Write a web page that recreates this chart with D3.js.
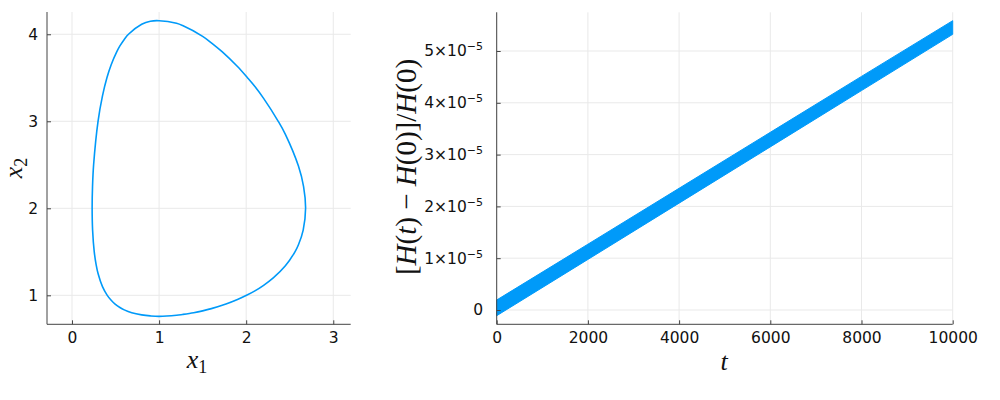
<!DOCTYPE html>
<html>
<head>
<meta charset="utf-8">
<script src="https://cdn.jsdelivr.net/npm/d3@7"></script>
<style>
html,body{margin:0;padding:0;background:#fff;}
svg{display:block;}
</style>
</head>
<body>
<svg id="chart" width="1000" height="400"></svg>
<script>
// Phase portrait (x1, x2), in order around the closed orbit
const phaseX1 = [1.00,1.20,1.27,1.397,1.50,1.60,1.768,1.90,2.004,2.10,2.20,2.311,2.45,2.56,2.60,2.6545,2.682,2.659,2.60,2.45,2.368,2.20,2.10,2.015,1.90,1.723,1.60,1.50,1.27,1.20,1.00,0.90,0.80,0.6485,0.60,0.55,0.5147,0.45,0.401,0.35,0.299,0.2482,0.2357,0.2313,0.2365,0.2555,0.2776,0.30,0.35,0.405,0.45,0.495,0.55,0.60,0.686,0.80,0.90];
const phaseX2 = [0.758,0.7705,0.78,0.80,0.8215,0.847,0.90,0.9516,1.00,1.051,1.115,1.20,1.339,1.50,1.581,1.75,2.00,2.25,2.485,2.85,3.00,3.263,3.399,3.50,3.629,3.80,3.902,3.976,4.10,4.126,4.156,4.15,4.115,4.00,3.941,3.866,3.80,3.65,3.50,3.292,3.00,2.50,2.25,2.00,1.75,1.50,1.35,1.248,1.10,1.00,0.943,0.90,0.86,0.833,0.80,0.7755,0.7633];
const leftXTicks = [0,1,2,3];
const leftYTicks = [1,2,3,4];

// Relative energy error band (upper / lower envelope)
const timeT = [0,2000,4000,6000,8000,10000];
const errUpper = [0.193e-5,1.27e-5,2.35e-5,3.43e-5,4.51e-5,5.585e-5];
const errLower = [-0.11e-5,0.976e-5,2.063e-5,3.149e-5,4.236e-5,5.322e-5];
const rightXTicks = [0,2000,4000,6000,8000,10000];
const rightYTicks = [0,1e-5,2e-5,3e-5,4e-5,5e-5];
const rightYTickMant = ["0","1","2","3","4","5"];

const svg = d3.select("#chart");
const blue = "#009af9";
const gridColor = "#e9e9e9";
const axisColor = "#444";
const tickFont = 15.5;
const sansFont = "'DejaVu Sans','Liberation Sans',sans-serif";

function drawGrid(x, y, xt, yt) {
  const [x0, x1] = x.range();
  const [y0, y1] = y.range();
  const g = svg.append("g");
  g.selectAll(".gx").data(xt).enter().append("line")
    .attr("x1", d => x(d)).attr("x2", d => x(d)).attr("y1", y0).attr("y2", y1)
    .attr("stroke", gridColor).attr("stroke-width", 1);
  g.selectAll(".gy").data(yt).enter().append("line")
    .attr("y1", d => y(d)).attr("y2", d => y(d)).attr("x1", x0).attr("x2", x1)
    .attr("stroke", gridColor).attr("stroke-width", 1);
}

function drawAxes(x, y, xt, yt, xfmt, yLabelFn, ylabX) {
  const [x0, x1] = x.range();
  const [y0, y1] = y.range();
  const xa = d3.axisBottom(x).tickValues(xt).tickSize(-4).tickPadding(8).tickFormat(xfmt);
  const gx = svg.append("g").attr("transform", `translate(0,${y0})`).call(xa);
  gx.select(".domain").attr("stroke", axisColor).attr("d", `M${x0},0H${x1}`);
  gx.selectAll(".tick line").attr("stroke", axisColor);
  gx.selectAll(".tick text").attr("font-size", tickFont).attr("font-family", sansFont)
    .attr("fill", "#111").attr("dy", "0.71em");
  const ya = d3.axisLeft(y).tickValues(yt).tickSize(-4).tickFormat(() => "");
  const gy = svg.append("g").attr("transform", `translate(${x0},0)`).call(ya);
  gy.select(".domain").attr("stroke", axisColor).attr("d", `M0,${y0}V${y1}`);
  gy.selectAll(".tick line").attr("stroke", axisColor);
  gy.selectAll(".tick text").remove();
  yt.forEach((d, i) => {
    const t = svg.append("text")
      .attr("x", ylabX).attr("y", y(d)).attr("dy", "0.35em")
      .attr("text-anchor", "end")
      .attr("font-family", sansFont)
      .attr("font-size", tickFont).attr("fill", "#111");
    yLabelFn(t, d, i);
  });
}

// ---------- Left panel ----------
const xL = d3.scaleLinear().domain([-0.287, 3.2]).range([47, 350.7]);
const yL = d3.scaleLinear().domain([0.667, 4.256]).range([324.3, 12]);
drawGrid(xL, yL, leftXTicks, leftYTicks);
const pts = phaseX1.map((v, i) => [v, phaseX2[i]]);
svg.append("path")
  .attr("d", d3.line().x(d => xL(d[0])).y(d => yL(d[1])).curve(d3.curveCatmullRomClosed.alpha(0.5))(pts))
  .attr("fill", "none").attr("stroke", blue).attr("stroke-width", 1.6);
drawAxes(xL, yL, leftXTicks, leftYTicks, d3.format("d"), (t, d) => t.text(d), 38);

// ---------- Right panel ----------
const xR = d3.scaleLinear().domain([0, 10000]).range([496.7, 952.7]);
const yR = d3.scaleLinear().domain([-0.276e-5, 5.747e-5]).range([324.3, 12.3]);
drawGrid(xR, yR, rightXTicks, rightYTicks);
const band = timeT.map((t, i) => ({t, lo: errLower[i], hi: errUpper[i]}));
svg.append("path")
  .attr("d", d3.area().x(d => xR(d.t)).y0(d => yR(d.lo)).y1(d => yR(d.hi))(band))
  .attr("fill", blue).attr("stroke", blue).attr("stroke-width", 1);
drawAxes(xR, yR, rightXTicks, rightYTicks, d3.format("d"), (t, d, i) => {
  if (d === 0) { t.text("0"); return; }
  t.append("tspan").text(rightYTickMant[i] + "×10");
  t.append("tspan").attr("dy", "-0.55em").attr("font-size", 11).text("−5");
}, 483);

// ---------- Axis titles ----------
function mathLabel(x, y, rot, size, build) {
  const t = svg.append("text")
    .attr("transform", `translate(${x},${y}) rotate(${rot})`)
    .attr("text-anchor", "middle")
    .attr("font-family", "'Liberation Serif','DejaVu Serif',serif")
    .attr("font-size", size).attr("fill", "#111");
  build(t);
}
mathLabel(197, 368, 0, 26, t => {
  t.append("tspan").attr("font-style", "italic").text("x");
  t.append("tspan").attr("dy", "0.3em").attr("font-size", 18).text("1");
});
mathLabel(22, 168, -90, 26, t => {
  t.append("tspan").attr("font-style", "italic").text("x");
  t.append("tspan").attr("dy", "0.3em").attr("font-size", 18).text("2");
});
mathLabel(724, 370, 0, 26, t => {
  t.append("tspan").attr("font-style", "italic").text("t");
});
mathLabel(416, 167, -90, 29, t => {
  t.append("tspan").text("[");
  t.append("tspan").attr("font-style", "italic").text("H");
  t.append("tspan").text("(");
  t.append("tspan").attr("font-style", "italic").text("t");
  t.append("tspan").text(") − ");
  t.append("tspan").attr("font-style", "italic").text("H");
  t.append("tspan").text("(0)]/");
  t.append("tspan").attr("font-style", "italic").text("H");
  t.append("tspan").text("(0)");
});
</script>
</body>
</html>
